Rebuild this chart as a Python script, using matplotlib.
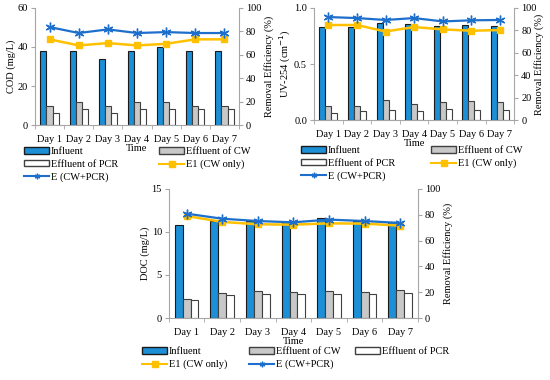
import numpy as np
import matplotlib
matplotlib.use("Agg")
import matplotlib.pyplot as plt
from matplotlib.patches import Patch
from matplotlib.lines import Line2D

plt.rcParams['font.family'] = ['Liberation Serif', 'DejaVu Serif']
plt.rcParams['font.size'] = 7.5

days = ["Day 1", "Day 2", "Day 3", "Day 4", "Day 5", "Day 6", "Day 7"]

# COD (mg/L)
codInfluent = [38, 38, 34, 38, 40, 38, 38]
codCW = [10, 12, 10, 12, 12, 10, 10]
codPCR = [6, 8, 6, 8, 8, 8, 8]
codE1 = [73.2, 68, 70, 68, 69.4, 73.2, 73.2]
codE = [83.7, 78.6, 81.7, 78.6, 79.4, 78.6, 78.6]

# UV-254 (cm-1)
uvInfluent = [0.83, 0.83, 0.87, 0.857, 0.836, 0.85, 0.84]
uvCW = [0.122, 0.128, 0.18, 0.14, 0.158, 0.17, 0.16]
uvPCR = [0.06, 0.078, 0.087, 0.078, 0.095, 0.09, 0.087]
uvE1 = [84.8, 84.8, 79, 83, 80.9, 79.7, 80.3]
uvE = [91.9, 91, 89.3, 91, 88, 89, 89.3]

# DOC (mg/L)
docInfluent = [10.8, 11.3, 11.3, 11.2, 11.65, 11.3, 11.1]
docCW = [2.2, 2.96, 3.1, 3.08, 3.1, 3.08, 3.23]
docPCR = [2.04, 2.7, 2.8, 2.8, 2.8, 2.8, 2.96]
docE1 = [79, 74.4, 72.6, 72.3, 73.3, 73.1, 71.5]
docE = [80.8, 76.9, 75.1, 74.1, 76.2, 75.1, 73.6]

BLUE = "#1C8FD6"
GRAY = "#C8C8C8"
LINE_E = "#1E6FCC"
LINE_E1 = "#FFC000"
AXIS = "#A6A6A6"
W, H = 550.0, 380.0


def panel(rect, infl, cw, pcr, e1, e, ylab, ymax, ystep, width=0.21, rpad=2):
    ax = fig.add_axes(rect)
    x = np.arange(len(days))
    ax.bar(x - width, infl, width, color=BLUE, edgecolor="#1a1a1a", linewidth=0.8)
    ax.bar(x, cw, width, color=GRAY, edgecolor="#404040", linewidth=0.8)
    ax.bar(x + width, pcr, width, color="white", edgecolor="#404040", linewidth=0.8)
    ax.set_xlim(-0.5, len(days) - 0.5)
    ax.set_ylim(0, ymax)
    ax.set_yticks(np.arange(0, ymax + ystep / 2, ystep))
    ax.set_xticks(x)
    ax.set_xticklabels(days)
    ax.set_xticks(np.arange(-0.5, len(days)), minor=True)
    ax.tick_params(axis='x', which='major', length=0, pad=7)
    ax.tick_params(axis='x', which='minor', length=3, color=AXIS)
    ax.tick_params(axis='y', length=3, color=AXIS, pad=2)
    ax.set_ylabel(ylab, labelpad=1)
    ax.set_xlabel("Time", labelpad=0)
    for s in ['top', 'right']:
        ax.spines[s].set_visible(False)
    for s in ['left', 'bottom']:
        ax.spines[s].set_color(AXIS)

    ax2 = ax.twinx()
    ax2.plot(x, e1, color=LINE_E1, marker='s', markersize=4.5, linewidth=1.8)
    ax2.plot(x, e, color=LINE_E, marker=(6, 2, 0), markersize=7,
             markeredgewidth=1.0, linewidth=1.6)
    ax2.set_ylim(0, 100)
    ax2.set_yticks(np.arange(0, 101, 20))
    ax2.tick_params(axis='y', length=3, color=AXIS, pad=2)
    ax2.set_ylabel("Removal Efficiency (%)", labelpad=rpad)
    for s in ['top', 'left', 'bottom']:
        ax2.spines[s].set_visible(False)
    ax2.spines['right'].set_color(AXIS)
    return ax


def handle(key):
    if key == 'infl':
        return Patch(facecolor=BLUE, edgecolor="#1a1a1a", label="Influent")
    if key == 'cw':
        return Patch(facecolor=GRAY, edgecolor="#404040", label="Effluent of CW")
    if key == 'pcr':
        return Patch(facecolor="white", edgecolor="#404040", label="Effluent of PCR")
    if key == 'e1':
        return Line2D([], [], color=LINE_E1, marker='s', markersize=4, linewidth=1.5,
                      label="E1 (CW only)")
    return Line2D([], [], color=LINE_E, marker=(6, 2, 0), markersize=4, linewidth=1.5,
                  label="E (CW+PCR)")


def legend_column(keys, xpx, ypx):
    # one legend per column, anchored at its top-left corner in pixels
    fig.legend(handles=[handle(k) for k in keys], loc='upper left',
               bbox_to_anchor=(xpx / W, 1 - ypx / H), frameon=False,
               handlelength=2.4, handleheight=0.6, handletextpad=0.2,
               labelspacing=0.35, borderaxespad=0, borderpad=0, fontsize=7.5)


fig = plt.figure(figsize=(5.5, 3.8), dpi=100)

panel([0.0636, 0.671, 0.371, 0.308], codInfluent, codCW, codPCR, codE1, codE,
      "COD (mg/L)", 60, 20)
panel([0.571, 0.684, 0.364, 0.295], uvInfluent, uvCW, uvPCR, uvE1, uvE,
      "UV-254 (cm$^{-1}$)", 1, 0.5, rpad=-2)
panel([0.307, 0.163, 0.453, 0.34], docInfluent, docCW, docPCR, docE1, docE,
      "DOC (mg/L)", 15, 5, width=0.22)

legend_column(['infl', 'pcr', 'e'], 24, 147)
legend_column(['cw', 'e1'], 159, 147)
legend_column(['infl', 'pcr', 'e'], 301, 146)
legend_column(['cw', 'e1'], 431, 146)
legend_column(['infl', 'e1'], 142, 347)
legend_column(['cw', 'e'], 249, 347)
legend_column(['pcr'], 355, 347)

fig.savefig("out.png", dpi=100)
